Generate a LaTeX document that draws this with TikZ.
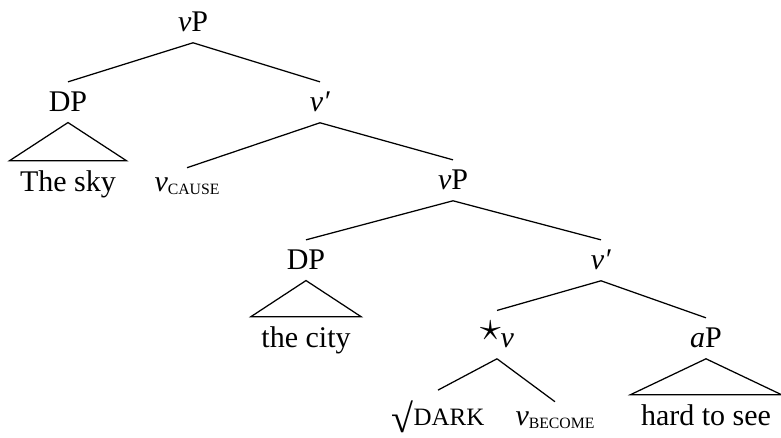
\documentclass[tikz,border=0pt]{standalone}
\usepackage{fontspec}
\setmainfont{Liberation Serif}
\usetikzlibrary{calc}
\newcommand{\fakesc}[1]{{\fontsize{10}{11}\selectfont\MakeUppercase{#1}}}
\newcommand{\fakesub}[1]{\raisebox{-1.2pt}{\fontsize{6.3}{7}\selectfont\MakeUppercase{#1}}}
\newcommand{\bigroot}{\raisebox{-2.5pt}{\fontsize{16}{17}\selectfont √}}
\tikzset{CAT/.style={anchor=base, inner sep=4pt, font=\fontsize{12}{14}\selectfont}}
\tikzset{LEAF/.style={CAT}}
\tikzset{BRANCH/.style={line width=0.5pt}}

\begin{document}
\begin{tikzpicture}[x=0.4pt,y=-0.4pt]
\useasboundingbox (0,0) rectangle (781,438);

% upper vP
\node[CAT] (n_vp_top) at (193,32) {\textit{v}P};
\node[CAT] (n_dp_sky) at (68,112) {DP};
\node[CAT] (n_vbar_top) at (320,112) {\textit{v′}};
\node[LEAF] (n_sky) at (68,192) {The sky};
\node[CAT] (n_v_cause) at (187,192) {\textit{v}\fakesub{cause}};

\draw[BRANCH] (n_vp_top.south) -- (n_dp_sky.north);
\draw[BRANCH] (n_vp_top.south) -- (n_vbar_top.north);
\draw[BRANCH] (n_dp_sky.south) -- (n_sky.north west) -- (n_sky.north east) -- cycle;
\draw[BRANCH] (n_vbar_top.south) -- (n_v_cause.north);

% lower vP
\node[CAT] (n_vp_low) at (453,190) {\textit{v}P};
\draw[BRANCH] (n_vbar_top.south) -- (n_vp_low.north);

\node[CAT] (n_dp_city) at (306,270) {DP};
\node[CAT] (n_vbar_low) at (601,270) {\textit{v′}};
\node[LEAF] (n_city) at (306,348) {the city};

\draw[BRANCH] (n_vp_low.south) -- (n_dp_city.north);
\draw[BRANCH] (n_vp_low.south) -- (n_vbar_low.north);
\draw[BRANCH] (n_dp_city.south) -- (n_city.north west) -- (n_city.north east) -- cycle;

\node[CAT] (n_v_star) at (497,348) {\raisebox{3pt}{\scalebox{1.4}{$\star$}}\textit{v}};
\node[CAT] (n_ap) at (706,348) {\textit{a}P};
\draw[BRANCH] (n_vbar_low.south) -- (n_v_star.north);
\draw[BRANCH] (n_vbar_low.south) -- (n_ap.north);

\node[CAT] (n_root) at (438,426) {\bigroot\fakesc{dark}};
\node[CAT] (n_v_become) at (555,426) {\textit{v}\fakesub{become}};
\node[LEAF] (n_hard) at (706,426) {hard to see};

\draw[BRANCH] (n_v_star.south) -- (n_root.north);
\draw[BRANCH] (n_v_star.south) -- (n_v_become.north);
\draw[BRANCH] (n_ap.south) -- (n_hard.north west) -- (n_hard.north east) -- cycle;

\end{tikzpicture}
\end{document}
